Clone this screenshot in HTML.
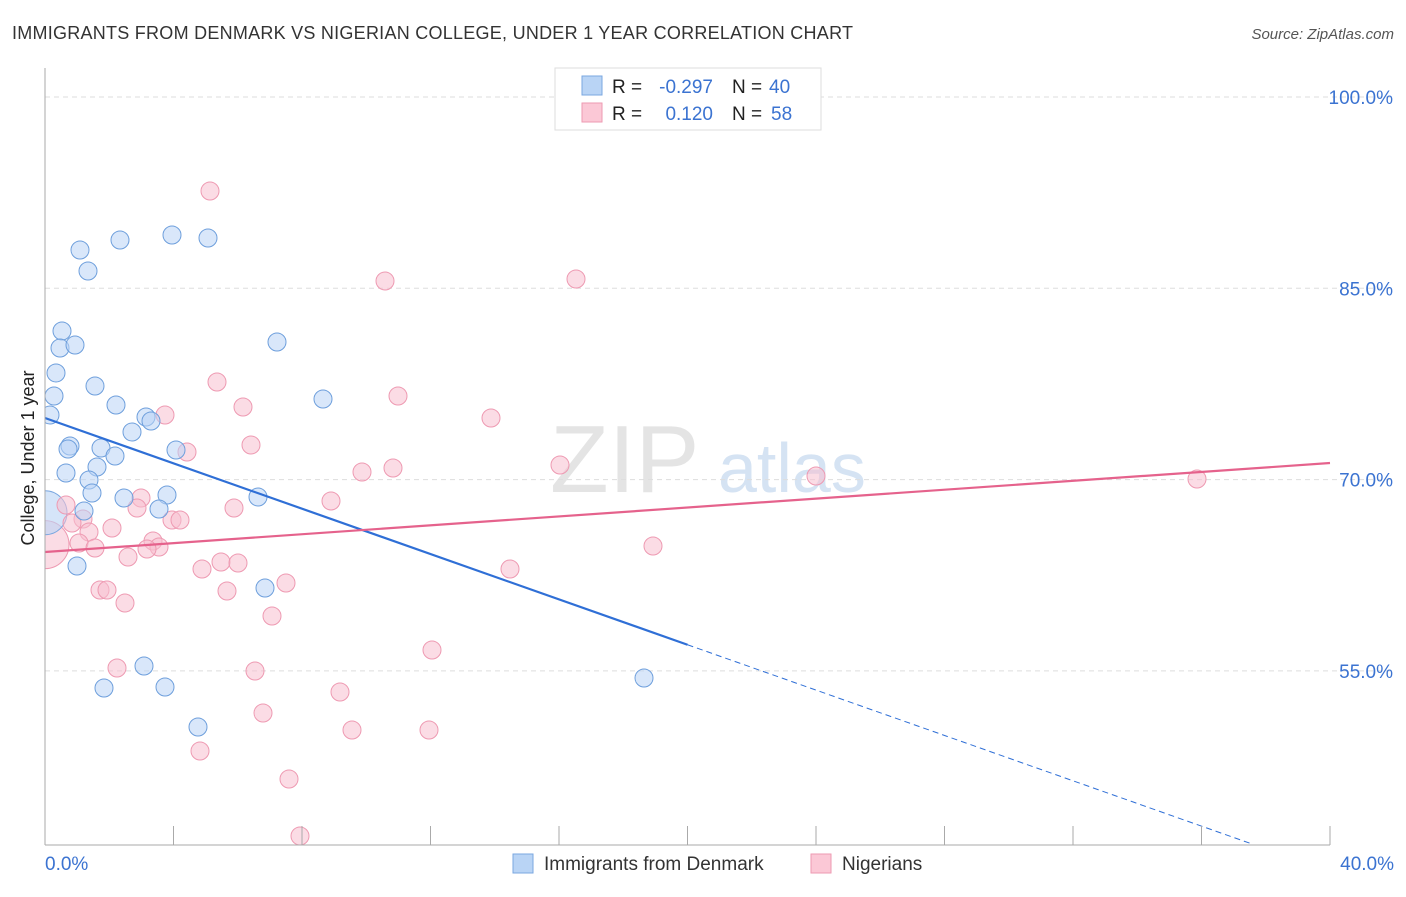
<!DOCTYPE html>
<html><head><meta charset="utf-8"><style>
body{margin:0;background:#fff;font-family:"Liberation Sans",sans-serif;}
svg text{font-family:"Liberation Sans",sans-serif;}
</style></head><body>
<svg id="c" width="1406" height="892">
<defs><clipPath id="plot"><rect x="45" y="60" width="1360" height="785"/></clipPath></defs>
<text x="12" y="39" font-size="18" fill="#333" textLength="841">IMMIGRANTS FROM DENMARK VS NIGERIAN COLLEGE, UNDER 1 YEAR CORRELATION CHART</text>
<text x="1394" y="39" font-size="15" fill="#555" font-style="italic" text-anchor="end">Source: ZipAtlas.com</text>
<text x="550" y="492" font-size="96" fill="#e4e4e4" font-family="Liberation Serif">ZIP</text>
<text x="718" y="492" font-size="70" fill="#d5e3f3">atlas</text>
<text transform="translate(34,458) rotate(-90)" font-size="18" fill="#222" text-anchor="middle">College, Under 1 year</text>
<g id="grid"></g><g id="marks" clip-path="url(#plot)"></g><g id="axes"></g>
<g>
<rect x="555" y="68" width="266" height="62" fill="#fff" stroke="#ddd"/>
<rect x="582" y="76" width="20" height="19" fill="#b9d4f5" stroke="#7aa7e0"/>
<rect x="582" y="103" width="20" height="19" fill="#fbc8d6" stroke="#ee9ab2"/>
<text x="612" y="93" font-size="19" fill="#222">R =</text>
<text x="713" y="93" font-size="19" fill="#3b73d1" text-anchor="end">-0.297</text>
<text x="732" y="93" font-size="19" fill="#222">N =</text>
<text x="769" y="93" font-size="19" fill="#3b73d1">40</text>
<text x="612" y="120" font-size="19" fill="#222">R =</text>
<text x="713" y="120" font-size="19" fill="#3b73d1" text-anchor="end">0.120</text>
<text x="732" y="120" font-size="19" fill="#222">N =</text>
<text x="771" y="120" font-size="19" fill="#3b73d1">58</text>
</g>
<g>
<rect x="513" y="854" width="20" height="19" fill="#b9d4f5" stroke="#7aa7e0"/>
<text x="544" y="870" font-size="19" fill="#333">Immigrants from Denmark</text>
<rect x="811" y="854" width="20" height="19" fill="#fbc8d6" stroke="#ee9ab2"/>
<text x="842" y="870" font-size="19" fill="#333">Nigerians</text>
</g>
</svg>
<script>
const yTicks=[100,85,70,55];
const xLabels=["0.0%","40.0%"];
const bluePx=[[80,250],[88,271],[120,240],[172,235],[208,238],[62,331],[60,348],[75,345],[56,373],[95,386],[54,396],[50,415],[116,405],[146,417],[151,421],[132,432],[70,446],[68,449],[101,448],[115,456],[97,467],[66,473],[89,480],[92,493],[124,498],[167,495],[258,497],[159,509],[84,511],[176,450],[277,342],[323,399],[77,566],[265,588],[144,666],[104,688],[165,687],[198,727],[644,678]];
const pinkPx=[[210,191],[385,281],[576,279],[217,382],[243,407],[398,396],[491,418],[165,415],[251,445],[187,452],[362,472],[393,468],[560,465],[816,476],[1197,479],[331,501],[234,508],[141,498],[137,508],[172,520],[180,520],[66,505],[83,519],[72,523],[89,532],[112,528],[79,543],[95,548],[153,541],[159,547],[147,549],[128,557],[221,562],[238,563],[202,569],[510,569],[653,546],[286,583],[100,590],[107,590],[227,591],[125,603],[272,616],[432,650],[117,668],[255,671],[340,692],[263,713],[352,730],[429,730],[200,751],[289,779],[300,836]];
const toX=p=>(p-45)/1285*40, toY=p=>100-(p-97)/12.753;
const blueX=bluePx.map(p=>toX(p[0])), blueY=bluePx.map(p=>toY(p[1]));
const pinkX=pinkPx.map(p=>toX(p[0])), pinkY=pinkPx.map(p=>toY(p[1]));
const blueBig=[0,67.4], pinkBig=[0,64.9];
const blueTrend=[74.83,-0.889], pinkTrend=[64.32,0.1745];
const sx=v=>45+v/40*1285, sy=v=>97+(100-v)*12.753;
const NS="http://www.w3.org/2000/svg";
function mk(t,a,p){const e=document.createElementNS(NS,t);for(const k in a)e.setAttribute(k,a[k]);document.getElementById(p).appendChild(e);return e;}
yTicks.forEach(v=>{const l=mk('line',{x1:45,x2:1394,y1:sy(v),y2:sy(v),stroke:'#ddd','stroke-dasharray':'5,4'},'grid');


const t=mk('text',{x:1393,y:sy(v)+7,'font-size':19,fill:'#3b73d1','text-anchor':'end'},'axes');t.textContent=v.toFixed(1)+'%';

});
mk('line',{x1:45,x2:45,y1:68,y2:845,stroke:'#aaa'},'axes');
mk('line',{x1:45,x2:1330,y1:845,y2:845,stroke:'#aaa'},'axes');
for(let i=1;i<=10;i++){const x=sx(i*4);const l=mk('line',{x1:x,x2:x,y1:826,y2:845,stroke:'#aaa'},'axes');

}
[[45,'start',xLabels[0]],[1394,'end',xLabels[1]]].forEach(a=>{const t=mk('text',{x:a[0],y:870,'font-size':19,fill:'#3b73d1','text-anchor':a[1]},'axes');t.textContent=a[2];

});
function dots(X,Y,f,s,name){X.forEach((x,i)=>{const c=mk('circle',{cx:sx(x),cy:sy(Y[i]),r:9,fill:f,stroke:s,'fill-opacity':0.55,'stroke-width':1},'marks');

});}
let b=mk('circle',{cx:sx(pinkBig[0]),cy:sy(pinkBig[1]),r:24,fill:'#f8bfcf','fill-opacity':0.55,stroke:'#ee9ab2'},'marks');


b=mk('circle',{cx:sx(blueBig[0]),cy:sy(blueBig[1]),r:22,fill:'#b9d4f5','fill-opacity':0.6,stroke:'#7aa7e0'},'marks');


dots(pinkX,pinkY,'#f8bfcf','#ee9ab2','nigerian-point');
dots(blueX,blueY,'#b9d4f5','#6e9fdc','denmark-point');
let l=mk('line',{x1:sx(0),y1:sy(blueTrend[0]),x2:sx(20),y2:sy(blueTrend[0]+20*blueTrend[1]),stroke:'#2f6fd6','stroke-width':2.2},'marks');


l=mk('line',{x1:sx(20),y1:sy(blueTrend[0]+20*blueTrend[1]),x2:sx(37.5),y2:sy(blueTrend[0]+37.5*blueTrend[1]),stroke:'#2f6fd6','stroke-width':1,'stroke-dasharray':'6,4'},'marks');


l=mk('line',{x1:sx(0),y1:sy(pinkTrend[0]),x2:sx(40),y2:sy(pinkTrend[0]+40*pinkTrend[1]),stroke:'#e5628c','stroke-width':2.2},'marks');


</script>
</body></html>
